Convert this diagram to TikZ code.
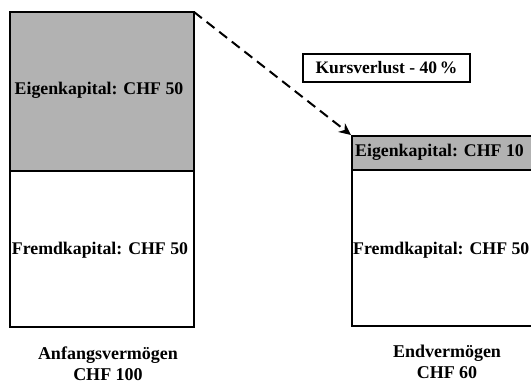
\documentclass[tikz,border=0pt]{standalone}
\usepackage{fontspec}
\setmainfont{Liberation Serif}
\usetikzlibrary{arrows.meta}
\begin{document}
\begin{tikzpicture}[x=1pt,y=-1pt,
  box/.style={draw=black,line width=1.5pt},
  lbl/.style={font=\fontsize{17.8}{20}\selectfont\bfseries,inner sep=0pt},
  captext/.style={font=\fontsize{18}{20.5}\selectfont\bfseries,align=center,inner sep=0pt}]
\useasboundingbox (0,0) rectangle (531,385);
\begin{scope}
\clip (0,0) rectangle (531,385);
% left column
\draw[box,fill=black!30] (10,12) rectangle (194,171);
\draw[box,fill=white] (10,171) rectangle (194,327);
\node[lbl] (ek1) at (99,90) {Eigenkapital: CHF 50};
\node[lbl] (fk1) at (100,250) {Fremdkapital: CHF 50};
\coordinate (tr) at (194,12);
% right column
\draw[box,fill=black!30] (352,136) rectangle (536,170);
\draw[box,fill=white] (352,170) rectangle (536,326);
\coordinate (tl) at (351,135);
\node[lbl,anchor=west] (ek2) at (355,152) {Eigenkapital: CHF 10};
\node[lbl,anchor=west] (fk2) at (353,250) {Fremdkapital: CHF 50};
\end{scope}
\node[box,line width=1.2pt,minimum width=167pt,minimum height=28pt,inner sep=0pt,
      font=\fontsize{17.5}{19}\selectfont\bfseries] (kv) at (386.5,68) {Kursverlust - 40\,\%};
\draw[line width=2pt,dash pattern=on 10pt off 6pt,-{Stealth[length=12pt,width=11pt]}] (tr) -- (tl);
\node[captext] (a) at (108,364) {Anfangsvermögen\\CHF 100};
\node[captext] (b) at (447,362) {Endvermögen\\CHF 60};
\end{tikzpicture}
\end{document}
